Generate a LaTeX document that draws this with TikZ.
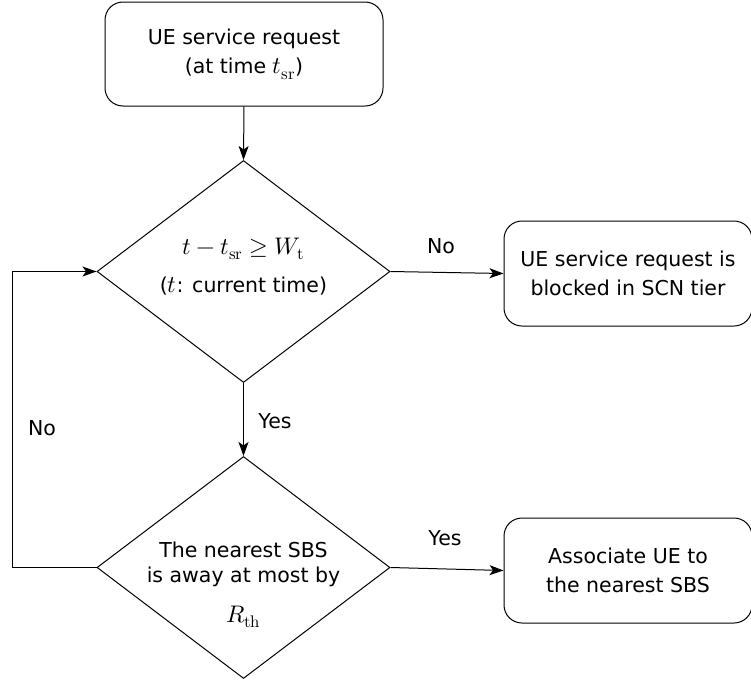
\documentclass[tikz,border=0pt]{standalone}
\usepackage[no-math]{fontspec}
\usepackage{unicode-math}
\setmainfont{DejaVu Sans}
\setmathfont{Latin Modern Math}
\usetikzlibrary{shapes.geometric,arrows.meta,calc}
\newcommand\mth[1]{{\fontsize{24}{29}\selectfont$#1$}}
\begin{document}
\begin{tikzpicture}[x=1pt,y=-1pt,
  font=\fontsize{20.5}{29}\selectfont,
  line width=1pt,
  box/.style={draw, rounded corners=18pt, align=center, inner sep=0pt},
  dec/.style={draw, shape=diamond, aspect=1.31, inner sep=0pt, minimum width=293pt, minimum height=222pt},
  txt/.style={anchor=base, inner sep=0pt},
  arr/.style={-{Stealth[length=14pt,width=10pt,inset=3.5pt]}},
]
\useasboundingbox (0,0) rectangle (751,680);
% boxes
\node[box, minimum width=278pt, minimum height=104pt] (top) at (244,54) {UE service request\\(at time \mth{t_{\symup{sr}}})};
\node[box, minimum width=248pt, minimum height=105pt] (b1) at (628,273.5) {UE service request is\\blocked in SCN tier};
\node[box, minimum width=248pt, minimum height=105pt] (b2) at (628,570.5) {Associate UE to\\the nearest SBS};
% decisions
\node[dec] (d1) at (243.5,271.5) {};
\node[dec] (d2) at (243.5,567.5) {};
\node[txt] (d1a) at (243.5,254) {\mth{t - t_{\symup{sr}} \geq W_{\symup{t}}}};
\node[txt] (d1b) at (243.5,292) {(\mth{t}: current time)};
\node[txt] (d2a) at (243.5,557) {The nearest SBS};
\node[txt] (d2b) at (243.5,582) {is away at most by};
\node[txt] (d2c) at (243.5,622) {\mth{R_{\symup{th}}}};
% connectors
\draw[arr] (top.south) -- (d1.north);
\draw[arr] (d1.east) -- (b1.west);
\draw[arr] (d1.south) -- (d2.north);
\draw[arr] (d2.east) -- (b2.west);
\coordinate (lp) at (12,567.5);
\draw[arr] (d2.west) -- (lp) |- (d1.west);
% labels
\node[txt] (l1) at (441,253) {No};
\node[txt] (l2) at (275,428) {Yes};
\node[txt] (l3) at (445,545) {Yes};
\node[txt] (l4) at (42,435) {No};
\end{tikzpicture}
\end{document}
